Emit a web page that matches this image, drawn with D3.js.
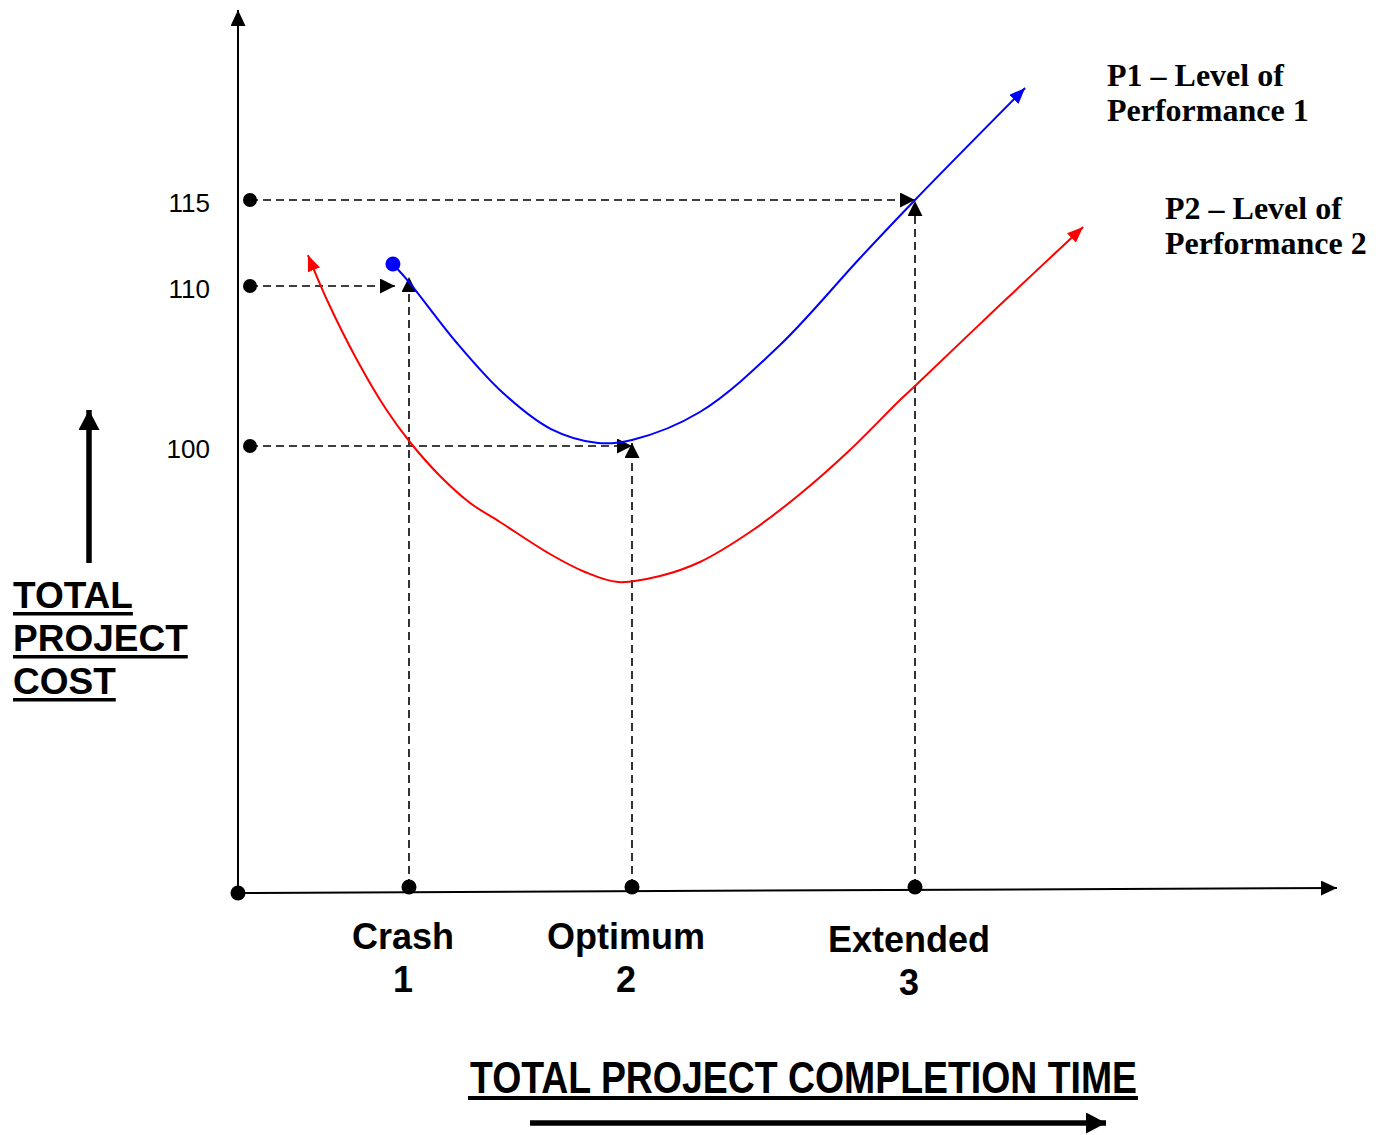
<!DOCTYPE html>
<html><head><meta charset="utf-8">
<script src="https://cdn.jsdelivr.net/npm/d3@7/dist/d3.min.js"></script>
<style>html,body{margin:0;padding:0;background:#fff;} svg{display:block}</style>
</head><body>
<svg id="chart" width="1382" height="1135"></svg>
<script>
// ---------- data ----------
const costTicks = [115, 110, 100];
const timeCategories = ["Crash", "Optimum", "Extended"];
const timeNumbers = [1, 2, 3];

// P1 – Level of Performance 1 (blue)
const p1Time = [0.906, 1.0, 1.211, 1.422, 1.637, 1.848, 2.0, 2.24, 2.523, 2.806, 3.0, 3.389];
const p1Cost = [111.28, 110.23, 106.5, 103.31, 101.06, 100.19, 100.38, 102.125, 106.31, 111.63, 115.0, 121.51];

// P2 – Level of Performance 2 (red)
const p2Time = [0.409, 0.526, 0.696, 0.865, 1.004, 1.139, 1.274, 1.408, 1.632, 1.789, 1.937, 2.099, 2.24, 2.417, 2.594, 2.77, 2.947, 3.0, 3.3, 3.594];
const p2Cost = [111.8, 109.0, 105.375, 102.31, 100.25, 98.125, 96.44, 95.25, 93.25, 92.125, 91.5, 91.875, 92.75, 94.625, 97.0, 99.75, 102.875, 103.75, 108.81, 113.43];

// dashed guides
const guideCost = [115, 110, 100];
const guideEndTime = [3, 0.918, 2];
const dropTime = [1, 2, 3];
const dropEndCost = [110.52, 100.19, 114.94];

const legendP1 = ["P1 \u2013 Level of", "Performance 1"];
const legendP2 = ["P2 \u2013 Level of", "Performance 2"];
const yTitle = ["TOTAL", "PROJECT", "COST"];
const xTitle = "TOTAL PROJECT COMPLETION TIME";

// ---------- scales ----------
const x = d3.scaleLinear().domain([0, 1, 2, 3]).range([238, 409, 632, 915]);
const y = d3.scaleLinear().domain([100, 110, 115]).range([446, 286, 200]);

const svg = d3.select("#chart");
const defs = svg.append("defs");
function marker(id, len, wid, color) {
  defs.append("marker").attr("id", id)
    .attr("viewBox", `0 0 ${len} ${wid}`).attr("refX", len).attr("refY", wid / 2)
    .attr("markerWidth", len).attr("markerHeight", wid)
    .attr("markerUnits", "userSpaceOnUse").attr("orient", "auto-start-reverse")
    .append("path").attr("d", `M0,0L${len},${wid / 2}L0,${wid}Z`).attr("fill", color).attr("stroke", "none");
}
marker("arrBlack", 16, 15, "#000");
marker("arrDash", 15, 15, "#000");
marker("arrBlue", 16, 13, "#0000ff");
marker("arrRed", 16, 13, "#ff0000");
marker("arrBig", 20, 21, "#000");

const originX = 238, originY = 893, tickY = 887;

// axes
svg.append("line").attr("x1", originX).attr("y1", originY).attr("x2", originX).attr("y2", 10)
  .attr("stroke", "#000").attr("stroke-width", 2).attr("marker-end", "url(#arrBlack)");
svg.append("line").attr("x1", originX).attr("y1", originY).attr("x2", 1337).attr("y2", 888)
  .attr("stroke", "#000").attr("stroke-width", 2).attr("marker-end", "url(#arrBlack)");

// dashed horizontal guides
guideCost.forEach((c, i) => {
  svg.append("line").attr("x1", originX + 12).attr("y1", y(c))
    .attr("x2", x(guideEndTime[i])).attr("y2", y(c))
    .attr("stroke", "#000").attr("stroke-width", 1.6).attr("stroke-dasharray", "8,5")
    .attr("marker-end", "url(#arrDash)");
  svg.append("circle").attr("cx", originX + 12).attr("cy", y(c)).attr("r", 7).attr("fill", "#000");
});
// dashed vertical drops
dropTime.forEach((t, i) => {
  svg.append("line").attr("x1", x(t)).attr("y1", tickY).attr("x2", x(t)).attr("y2", y(dropEndCost[i]))
    .attr("stroke", "#000").attr("stroke-width", 1.6).attr("stroke-dasharray", "8,5")
    .attr("marker-end", "url(#arrDash)");
  svg.append("circle").attr("cx", x(t)).attr("cy", tickY).attr("r", 7.5).attr("fill", "#000");
});
svg.append("circle").attr("cx", originX).attr("cy", originY).attr("r", 7.5).attr("fill", "#000");

// curves
const line = d3.line().x(d => x(d[0])).y(d => y(d[1])).curve(d3.curveCatmullRom.alpha(0.5));
const p1 = p1Time.map((t, i) => [t, p1Cost[i]]);
const p2 = p2Time.map((t, i) => [t, p2Cost[i]]);
svg.append("path").attr("d", line(p2)).attr("fill", "none").attr("stroke", "#ff0000")
  .attr("stroke-width", 2).attr("marker-start", "url(#arrRed)").attr("marker-end", "url(#arrRed)");
svg.append("path").attr("d", line(p1)).attr("fill", "none").attr("stroke", "#0000ff")
  .attr("stroke-width", 2).attr("marker-end", "url(#arrBlue)");
svg.append("circle").attr("cx", x(p1[0][0])).attr("cy", y(p1[0][1])).attr("r", 7.5).attr("fill", "#0000ff");

// y tick labels
costTicks.forEach(c => {
  svg.append("text").attr("x", 210).attr("y", y(c) + 12).attr("text-anchor", "end")
    .attr("font-family", "Arial, 'Liberation Sans', sans-serif").attr("font-size", 26).text(c);
});

// x category labels
timeNumbers.forEach((t, i) => {
  const g = svg.append("text").attr("text-anchor", "middle")
    .attr("font-family", "Arial, 'Liberation Sans', sans-serif").attr("font-weight", "bold").attr("font-size", 36);
  const base = i === 2 ? 952 : 949;
  g.append("tspan").attr("x", x(t) - 6).attr("y", base).text(timeCategories[i]);
  g.append("tspan").attr("x", x(t) - 6).attr("y", base + 43).text(t);
});

// legends
function legend(lines, lx, ly) {
  lines.forEach((s, i) => {
    svg.append("text").attr("x", lx).attr("y", ly + i * 35)
      .attr("font-family", "'Times New Roman', 'Liberation Serif', serif").attr("font-weight", "bold")
      .attr("font-size", 32).text(s);
  });
}
legend(legendP1, 1107, 86);
legend(legendP2, 1165, 219);

// y title with underline
yTitle.forEach((s, i) => {
  const t = svg.append("text").attr("x", 13).attr("y", 608 + i * 43)
    .attr("font-family", "Arial, 'Liberation Sans', sans-serif").attr("font-weight", "bold")
    .attr("font-size", 37).text(s);
  const w = t.node().getComputedTextLength();
  svg.append("rect").attr("x", 13).attr("y", 608 + i * 43 + 4).attr("width", w).attr("height", 3.5).attr("fill", "#000");
});
// y big arrow
svg.append("line").attr("x1", 89).attr("y1", 563).attr("x2", 89).attr("y2", 410)
  .attr("stroke", "#000").attr("stroke-width", 5.5).attr("marker-end", "url(#arrBig)");

// x title
svg.append("text").attr("x", 470).attr("y", 1093).attr("textLength", 667).attr("lengthAdjust", "spacingAndGlyphs")
  .attr("font-family", "Arial, 'Liberation Sans', sans-serif").attr("font-weight", "bold")
  .attr("font-size", 45).text(xTitle);
svg.append("rect").attr("x", 468).attr("y", 1096).attr("width", 670).attr("height", 4).attr("fill", "#000");
svg.append("line").attr("x1", 530).attr("y1", 1123).attr("x2", 1106).attr("y2", 1123)
  .attr("stroke", "#000").attr("stroke-width", 5.5).attr("marker-end", "url(#arrBig)");
</script>
</body></html>
